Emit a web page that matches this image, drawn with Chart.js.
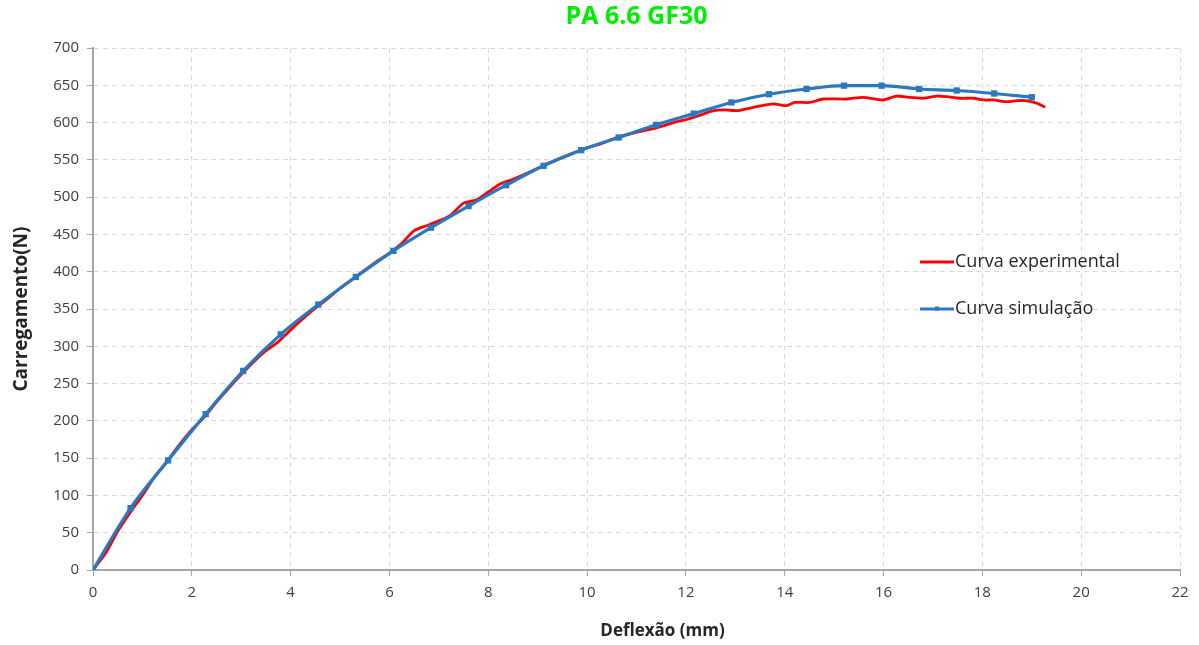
<!DOCTYPE html>
<html>
<head>
<meta charset="utf-8">
<script src="https://cdn.jsdelivr.net/npm/chart.js@4"></script>
<style>
  html, body { margin: 0; padding: 0; background: #fff; }
  #wrap { width: 1199px; height: 645px; position: relative; }
</style>
</head>
<body>
<div id="wrap"><canvas id="grafico"></canvas></div>
<script>
// -------------------------
// Dados
// -------------------------

// curva experimental (deflexão mm / carga N)
const expX = [0, 0.25, 0.5, 0.75, 1.0, 1.25, 1.5, 1.75, 2.0, 2.25, 2.5, 2.75, 3.0, 3.25, 3.5, 3.75,
  4.0, 4.25, 4.5, 4.75, 5.0, 5.25, 5.5, 5.75, 6.0, 6.25, 6.5, 6.8, 7.2, 7.5, 7.75, 8.0, 8.25, 8.5,
  8.85, 9.2, 9.6, 10.0, 10.3, 10.6, 11.0, 11.4, 11.8, 12.0, 12.2, 12.56, 12.8, 13.03, 13.37, 13.77,
  14.04, 14.2, 14.51, 14.78, 15.26, 15.59, 15.99, 16.26, 16.47, 16.8, 17.08, 17.28, 17.55, 17.82,
  18.02, 18.22, 18.5, 18.7, 18.87, 19.1, 19.27];
const expY = [0, 22, 52, 77, 100, 125, 146, 168, 188, 205, 225, 244, 262, 279, 294, 306,
  322, 337, 351, 364, 378, 390, 402, 414, 425, 438, 455, 463, 474, 492, 496, 507, 518, 524,
  534, 545, 556, 566, 572, 580, 587, 593, 601, 604, 608, 616, 617, 616, 620.5, 625,
  622.7, 627, 627, 631.6, 631.6, 633.9, 630.3, 635.6, 634, 632.6, 635.6, 634.7, 632.6, 632.6,
  630.3, 630.3, 628, 629.4, 629.4, 626, 620.5];

// curva da simulação
const simX = [0, 0.76, 1.52, 2.28, 3.04, 3.8, 4.56, 5.32, 6.08, 6.84, 7.6, 8.36, 9.12, 9.88,
  10.64, 11.4, 12.16, 12.92, 13.68, 14.44, 15.2, 15.96, 16.72, 17.48, 18.24, 19.0];
const simY = [0, 83, 147, 209, 267, 316, 356, 393, 428, 459, 488, 516, 542, 563,
  580, 597, 612, 627, 638, 645, 649.5, 649.5, 645, 643, 639, 634];

const titulo = "PA 6.6 GF30";
const tituloX = "Deflexão (mm)";
const tituloY = "Carregamento(N)";
const nomes = ["Curva experimental", "Curva simulação"];
const cores = ["#ff0000", "#2a78c0"];
// -------------------------

const pontos = (xs, ys) => xs.map((x, i) => ({ x: x, y: ys[i] }));

// legenda dentro da área do gráfico + título do eixo x
const extras = {
  id: "extras",
  afterDraw(chart) {
    const ctx = chart.ctx;
    const area = chart.chartArea;
    const x0 = area.left + 827;
    const linhas = [area.top + 214, area.top + 261];
    ctx.save();
    ctx.font = "18px 'Open Sans'";
    ctx.textBaseline = "middle";
    chart.data.datasets.forEach((ds, i) => {
      const y = linhas[i];
      ctx.strokeStyle = ds.borderColor;
      ctx.lineWidth = ds.borderWidth;
      ctx.beginPath();
      ctx.moveTo(x0, y);
      ctx.lineTo(x0 + 34, y);
      ctx.stroke();
      if (ds.pointRadius > 0) {
        ctx.fillStyle = ds.borderColor;
        ctx.fillRect(x0 + 15, y - 2.5, 4, 4);
      }
      ctx.fillStyle = "#262626";
      ctx.fillText(ds.label, x0 + 35, y);
    });

    // título do eixo x (um pouco à direita do centro)
    ctx.font = "bold 17px 'Open Sans'";
    ctx.textAlign = "center";
    ctx.fillStyle = "#262626";
    ctx.fillText(tituloX, (area.left + area.right) / 2 + 26, area.bottom + 61);
    ctx.restore();
  }
};

document.addEventListener("DOMContentLoaded", function () {
  const ctx = document.getElementById("grafico").getContext("2d");
  new Chart(ctx, {
    type: "line",
    data: {
      datasets: [
        {
          label: nomes[0],
          data: pontos(expX, expY),
          borderColor: cores[0],
          borderWidth: 2.8,
          pointRadius: 0,
          tension: 0.25,
          order: 1
        },
        {
          label: nomes[1],
          data: pontos(simX, simY),
          borderColor: cores[1],
          backgroundColor: cores[1],
          borderWidth: 3.2,
          pointStyle: "rect",
          pointRadius: 2.2,
          cubicInterpolationMode: "monotone",
          order: 0
        }
      ]
    },
    options: {
      responsive: true,
      maintainAspectRatio: false,
      animation: false,
      layout: { padding: { left: 0, right: 19, top: 0, bottom: 0 } },
      plugins: {
        legend: { display: false },
        tooltip: { enabled: false },
        title: {
          display: true,
          fullSize: false,
          text: titulo,
          color: "#00ee00",
          font: { family: "'Open Sans'", size: 25, weight: "bold" },
          padding: { top: 2, bottom: 16 }
        }
      },
      scales: {
        x: {
          type: "linear",
          min: 0,
          max: 22,
          ticks: {
            stepSize: 2,
            color: "#404040",
            font: { family: "'Open Sans'", size: 15 },
            padding: 8
          },
          grid: {
            color: "#d9d9d9",
            tickColor: "#a6a6a6",
            tickLength: 6,
            lineWidth: 1
          },
          border: { color: "#a6a6a6", width: 2, dash: [5, 4] },
          afterFit: (s) => { s.height = 75; }
        },
        y: {
          min: 0,
          max: 700,
          ticks: {
            stepSize: 50,
            color: "#404040",
            font: { family: "'Open Sans'", size: 15 },
            padding: 8
          },
          grid: {
            color: "#d9d9d9",
            tickColor: "#a6a6a6",
            tickLength: 6,
            lineWidth: 1
          },
          border: { color: "#a6a6a6", width: 2, dash: [5, 4] },
          title: {
            display: true,
            text: tituloY,
            color: "#262626",
            font: { family: "'Open Sans'", size: 19, weight: "bold" },
            padding: { top: 10, bottom: 0 }
          },
          afterFit: (s) => { s.width = 93; }
        }
      }
    },
    plugins: [extras]
  });
});
</script>
</body>
</html>
